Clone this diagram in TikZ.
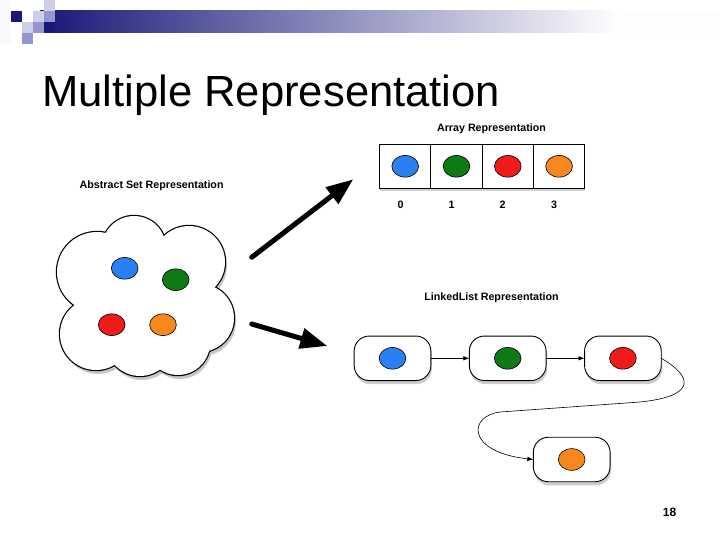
\documentclass[tikz,border=0pt]{standalone}
\usepackage{fontspec}
\setmainfont{Liberation Sans}
\usetikzlibrary{arrows.meta, positioning, shapes.geometric, shadows}
\definecolor{navyhead}{RGB}{24,24,120}
\definecolor{lavlight}{RGB}{206,206,234}
\definecolor{lavmid}{RGB}{150,150,204}
\definecolor{ballblue}{RGB}{42,128,240}
\definecolor{ballgreen}{RGB}{14,122,22}
\definecolor{ballred}{RGB}{240,26,26}
\definecolor{ballorange}{RGB}{248,136,30}
\newcommand\cloudpuffs{134/248/32, 97/272/40, 189/262/36, 200/318/34, 178/343/32, 140/342/34, 96/334/36}

\begin{document}
\begin{tikzpicture}[x=1pt, y=-1pt,
  ball/.style={ellipse, draw, line width=0.6pt, fill=#1, minimum width=26.7pt, minimum height=21.7pt, inner sep=0pt},
  cell/.style={draw, line width=0.9pt, fill=white, minimum width=51.3pt, minimum height=44pt, inner sep=0pt, outer sep=0pt,
    drop shadow={shadow xshift=0pt, shadow yshift=-3pt, opacity=0.35}},
  listnode/.style={draw, line width=0.9pt, fill=white, rounded corners=15pt, minimum width=76.7pt, minimum height=44.5pt, inner sep=0pt, outer sep=0pt,
    drop shadow={shadow xshift=1pt, shadow yshift=-3.5pt, opacity=0.4}},
  link/.style={-{Latex[length=6pt, width=4.5pt]}, line width=0.6pt},
  bigarrow/.style={-{Triangle[length=27pt, width=20pt]}, line width=5pt, line cap=round},
  caption/.style={font=\fontsize{10.7}{12}\selectfont\bfseries, inner sep=0pt},
  node distance=38.5pt
]
\useasboundingbox (0,0) rectangle (720,540);

% header band
\fill[white!90!lavlight] (0,0) rectangle (11,44);
\shade[left color=navyhead, right color=white] (40,11) rectangle (620,33);
\fill[white!96!lavlight] (620,11) rectangle (720,33);
\fill[navyhead] (11,11) rectangle (22,22);
\fill[lavlight] (22,22) rectangle (33,33);
\fill[lavmid] (22,33) rectangle (33,44);
\fill[lavlight] (33,11) rectangle (44,22);
\fill[lavmid] (33,22) rectangle (44,33);
\fill[lavlight] (44,0) rectangle (55,11);
\fill[lavmid] (44,11) rectangle (55,22);
\fill[navyhead] (44,22) rectangle (55,33);

\node[anchor=base west, inner sep=0pt, font=\fontsize{43.6}{50}\selectfont] (title) at (42,107) {Multiple Representation};

% abstract set (cloud)
\node[caption, anchor=base west] (setlbl) at (79.5,188.5) {Abstract Set Representation};
\foreach \cx/\cy/\r in \cloudpuffs
  \fill[black!22] (\cx+2,\cy+4) circle[radius=\r pt];
\foreach \cx/\cy/\r in \cloudpuffs
  \draw[line width=2.4pt] (\cx,\cy) circle[radius=\r pt];
\foreach \cx/\cy/\r in \cloudpuffs
  \fill[white] (\cx,\cy) circle[radius=\r pt];
\fill[white] (134,248) -- (189,262) -- (200,318) -- (178,343) -- (140,342) -- (96,334) -- (97,272) -- cycle;
\node[ball=ballblue] (setblue) at (124.7,268.3) {};
\node[ball=ballgreen] (setgreen) at (175.7,279.7) {};
\node[ball=ballred] (setred) at (111.7,324.7) {};
\node[ball=ballorange] (setorange) at (163,324.7) {};

% arrows out of the set
\coordinate (upTail) at (251.7,257.3);
\coordinate (upTip) at (353.3,179.3);
\coordinate (lowTail) at (251.7,324);
\coordinate (lowTip) at (327.3,346);
\draw[bigarrow] (upTail) -- (upTip);
\draw[bigarrow] (lowTail) -- (lowTip);

% array
\node[caption, anchor=base] (arrlbl) at (491.5,132) {Array Representation};
\node[cell] (cell0) at (405.2,166.3) {};
\node[cell, right=0pt of cell0] (cell1) {};
\node[cell, right=0pt of cell1] (cell2) {};
\node[cell, right=0pt of cell2] (cell3) {};
\node[ball=ballblue] (arr0) at (cell0) {};
\node[ball=ballgreen] (arr1) at (cell1) {};
\node[ball=ballred] (arr2) at (cell2) {};
\node[ball=ballorange] (arr3) at (cell3) {};
\node[caption, anchor=base] (idx0) at (400.5,208) {0};
\node[caption, anchor=base] (idx1) at (451.5,208) {1};
\node[caption, anchor=base] (idx2) at (502.5,208) {2};
\node[caption, anchor=base] (idx3) at (554,208) {3};

% linked list
\node[caption, anchor=base] (listlbl) at (491.5,300.5) {LinkedList Representation};
\node[listnode] (n1) at (392.5,358.3) {};
\node[listnode, right=of n1] (n2) {};
\node[listnode, right=of n2] (n3) {};
\node[listnode] (n4) at (571.7,459.5) {};
\node[ball=ballblue] (lst1) at (n1) {};
\node[ball=ballgreen] (lst2) at (n2) {};
\node[ball=ballred] (lst3) at (n3) {};
\node[ball=ballorange] (lst4) at (n4) {};
\draw[link] (n1) -- (n2);
\draw[link] (n2) -- (n3);
\draw[link] (n3.east) .. controls (692,376) and (698,396) .. (640,402)
  -- (500,412) .. controls (468,416) and (466,452) .. (n4.west);

\node[anchor=base, inner sep=0pt, font=\fontsize{12}{14}\selectfont\bfseries] (pagenum) at (669.5,516.5) {18};
\end{tikzpicture}
\end{document}
